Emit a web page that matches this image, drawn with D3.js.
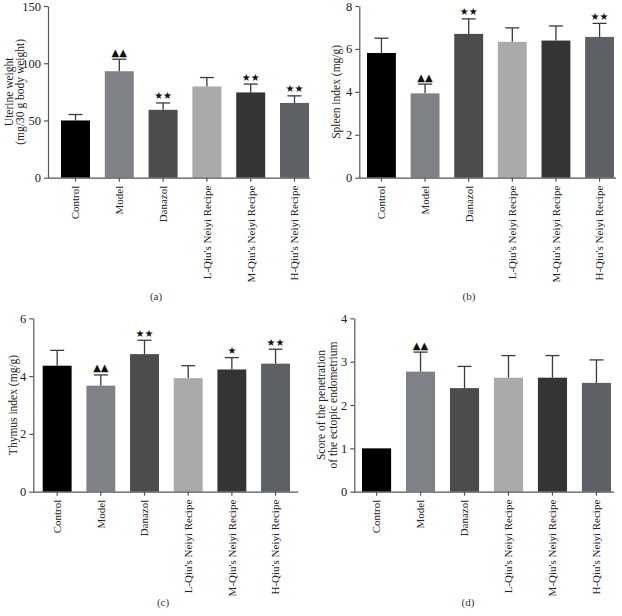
<!DOCTYPE html>
<html>
<head>
<meta charset="utf-8">
<script src="https://cdn.jsdelivr.net/npm/d3@7"></script>
<style>
  body { margin:0; background:#fff; }
  svg { display:block; font-family:"Liberation Serif","DejaVu Serif",serif; }
</style>
</head>
<body>
<svg id="chart" width="622" height="616"></svg>
<script>
// groups shared by every panel
const groups = ["Control","Model","Danazol","L-Qiu's Neiyi Recipe","M-Qiu's Neiyi Recipe","H-Qiu's Neiyi Recipe"];
const barColors = ["#000000","#7e8185","#4b4c4e","#a9aaac","#333436","#5d6064"];

// (a) uterine weight
const uterineMean = [50, 93, 59.3, 79.7, 74.5, 65.3];
const uterineErr  = [5.2, 10.5, 6, 7.8, 7.3, 6.2];
const uterineMark = ["", "▲▲", "★★", "", "★★", "★★"];
const uterineTicks = [0, 50, 100, 150];

// (b) spleen index
const spleenMean = [5.81, 3.93, 6.70, 6.33, 6.39, 6.56];
const spleenErr  = [0.69, 0.43, 0.70, 0.65, 0.68, 0.63];
const spleenMark = ["", "▲▲", "★★", "", "", "★★"];
const spleenTicks = [0, 2, 4, 6, 8];

// (c) thymus index
const thymusMean = [4.36, 3.67, 4.76, 3.93, 4.23, 4.43];
const thymusErr  = [0.53, 0.37, 0.48, 0.43, 0.41, 0.50];
const thymusMark = ["", "▲▲", "★★", "", "★", "★★"];
const thymusTicks = [0, 2, 4, 6];

// (d) penetration score
const scoreMean = [1.0, 2.77, 2.39, 2.63, 2.63, 2.51];
const scoreErr  = [0, 0.45, 0.50, 0.51, 0.51, 0.53];
const scoreMark = ["", "▲▲", "", "", "", ""];
const scoreTicks = [0, 1, 2, 3, 4];

const svg = d3.select("#chart");

function drawPanel({mean, err, marks, ticks, title, caption, axisX, axisEnd, barStart, barEnd, y0, yTop, titleX, captionX, captionY})
{
    const g = svg.append("g");

    const x = d3.scaleBand().domain(groups).range([barStart, barEnd]).paddingInner(0.338).paddingOuter(0);
    const y = d3.scaleLinear().domain([0, d3.max(ticks)]).range([y0, yTop]);

    // y axis
    const yAxis = d3.axisLeft(y).tickValues(ticks).tickFormat(d3.format("d"))
        .tickSize(4).tickPadding(3).tickSizeOuter(0);
    const ya = g.append("g").attr("transform", `translate(${axisX},0)`).call(yAxis);
    ya.select(".domain").attr("stroke", "#555").attr("stroke-width", 1.2);
    ya.selectAll(".tick line").attr("stroke", "#555").attr("stroke-width", 1.2);
    ya.selectAll(".tick text").attr("font-size", 12.5).attr("fill", "#222").attr("font-family", "Liberation Serif");

    // bars
    g.selectAll("rect.bar").data(groups).enter().append("rect")
        .attr("class", "bar")
        .attr("x", d => x(d))
        .attr("width", x.bandwidth())
        .attr("y", (d, i) => y(mean[i]))
        .attr("height", (d, i) => y0 - y(mean[i]))
        .attr("fill", (d, i) => barColors[i]);

    // error bars (upper only)
    const cap = 7;
    groups.forEach((d, i) => {
        if (!err[i]) return;
        const cx = x(d) + x.bandwidth() / 2;
        const top = y(mean[i] + err[i]);
        g.append("line").attr("x1", cx).attr("x2", cx).attr("y1", y(mean[i])).attr("y2", top)
            .attr("stroke", "#3a3a3a").attr("stroke-width", 1.3);
        g.append("line").attr("x1", cx - cap).attr("x2", cx + cap).attr("y1", top).attr("y2", top)
            .attr("stroke", "#3a3a3a").attr("stroke-width", 1.3);
    });

    // significance marks
    g.selectAll("text.mark").data(groups).enter().append("text")
        .attr("class", "mark")
        .attr("x", d => x(d) + x.bandwidth() / 2)
        .attr("y", (d, i) => y(mean[i] + err[i]) - 3.5)
        .attr("text-anchor", "middle")
        .attr("font-family", "DejaVu Sans")
        .attr("font-size", 10)
        .attr("fill", "#111")
        .text((d, i) => marks[i]);

    // x axis
    const xa = g.append("g").attr("transform", `translate(0,${y0})`)
        .call(d3.axisBottom(x).tickSize(4).tickSizeOuter(0));
    xa.select(".domain").attr("d", `M${axisX},0.5H${axisEnd}`).attr("stroke", "#555").attr("stroke-width", 1.2);
    xa.selectAll(".tick line").attr("stroke", "#555").attr("stroke-width", 1.2);
    xa.selectAll(".tick text")
        .attr("font-size", 11)
        .attr("fill", "#222")
        .attr("font-family", "Liberation Serif")
        .attr("text-anchor", "end")
        .attr("dy", "0.35em")
        .attr("transform", "translate(0,8) rotate(-90)")
        .attr("x", 0).attr("y", 0);

    // y title
    const midY = (y0 + yTop) / 2;
    title.forEach((line, k) => {
        g.append("text")
            .attr("transform", `translate(${titleX[k]},${midY}) rotate(-90)`)
            .attr("text-anchor", "middle")
            .attr("dy", "0.35em")
            .attr("font-size", 11.5)
            .attr("fill", "#222")
            .text(line);
    });

    g.append("text")
        .attr("x", captionX).attr("y", captionY)
        .attr("text-anchor", "middle")
        .attr("font-size", 11)
        .attr("fill", "#333")
        .text(caption);
}

drawPanel({mean: uterineMean, err: uterineErr, marks: uterineMark, ticks: uterineTicks,
    title: ["Uterine weight", "(mg/30 g body weight)"], caption: "(a)",
    axisX: 48, axisEnd: 310, barStart: 61, barEnd: 309, y0: 177.7, yTop: 6,
    titleX: [9, 20], captionX: 156, captionY: 300});

drawPanel({mean: spleenMean, err: spleenErr, marks: spleenMark, ticks: spleenTicks,
    title: ["Spleen index (mg/g)"], caption: "(b)",
    axisX: 359.3, axisEnd: 616, barStart: 367, barEnd: 614, y0: 177.7, yTop: 6,
    titleX: [336], captionX: 469, captionY: 300});

drawPanel({mean: thymusMean, err: thymusErr, marks: thymusMark, ticks: thymusTicks,
    title: ["Thymus index (mg/g)"], caption: "(c)",
    axisX: 33.3, axisEnd: 298, barStart: 42.7, barEnd: 290, y0: 491.7, yTop: 318.3,
    titleX: [13], captionX: 163, captionY: 606});

drawPanel({mean: scoreMean, err: scoreErr, marks: scoreMark, ticks: scoreTicks,
    title: ["Score of the penetration", "of the ectopic endometrium"], caption: "(d)",
    axisX: 354.3, axisEnd: 614, barStart: 362, barEnd: 611, y0: 491.7, yTop: 318.3,
    titleX: [321, 333], captionX: 468, captionY: 606});
</script>
</body>
</html>
